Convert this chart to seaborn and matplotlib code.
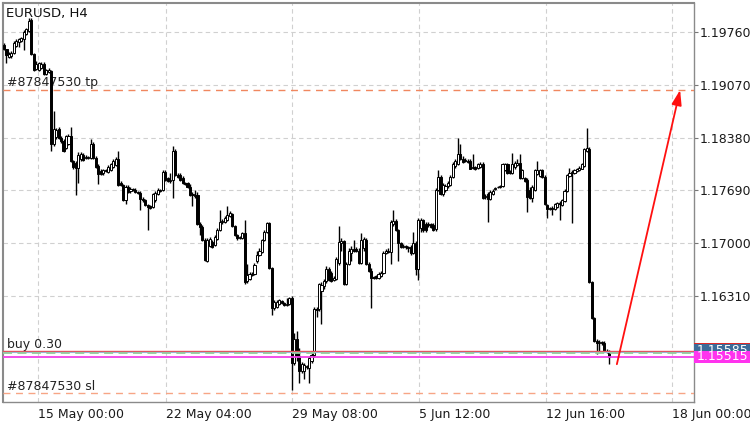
import numpy as np
import pandas as pd
import matplotlib
matplotlib.use("Agg")
import matplotlib.pyplot as plt
import matplotlib.transforms as mtransforms
from matplotlib.patches import Rectangle
import seaborn as sns

# H4 candles (oldest first)
opens = [
    1.19585, 1.19533, 1.19429, 1.19442, 1.19481, 1.19572, 1.19624, 1.19637, 1.19663, 1.19728,
    1.19767, 1.19910, 1.19468, 1.19273, 1.19260, 1.19286, 1.19338, 1.19208, 1.19234, 1.19247,
    1.18301, 1.18392, 1.18496, 1.18379, 1.18340, 1.18249, 1.18301, 1.18405, 1.18080, 1.18054,
    1.17989, 1.18106, 1.18158, 1.18119, 1.18119, 1.18119, 1.18301, 1.18119, 1.18015, 1.17937,
    1.17911, 1.17950, 1.17924, 1.17950, 1.18002, 1.18028, 1.18106, 1.17781, 1.17755, 1.17560,
    1.17729, 1.17677, 1.17703, 1.17690, 1.17664, 1.17651, 1.17573, 1.17560, 1.17495, 1.17482,
    1.17469, 1.17560, 1.17638, 1.17690, 1.17690, 1.17924, 1.17846, 1.17807, 1.17820, 1.18210,
    1.17885, 1.17885, 1.17846, 1.17781, 1.17781, 1.17729, 1.17625, 1.17612, 1.17625, 1.17248,
    1.17209, 1.17040, 1.16770, 1.16962, 1.17014, 1.16975, 1.17053, 1.17170, 1.17274, 1.17274,
    1.17300, 1.17352, 1.17378, 1.17222, 1.17105, 1.17066, 1.17066, 1.17131, 1.16510, 1.16536,
    1.16588, 1.16601, 1.16770, 1.16848, 1.16887, 1.17040, 1.17144, 1.17261, 1.16679, 1.16159,
    1.16172, 1.16211, 1.16250, 1.16224, 1.16198, 1.16211, 1.16289, 1.15444, 1.15756, 1.15535,
    1.15340, 1.15340, 1.15392, 1.15379, 1.15470, 1.15548, 1.16133, 1.16146, 1.16380, 1.16445,
    1.16510, 1.16666, 1.16614, 1.16523, 1.16536, 1.16744, 1.17001, 1.17027, 1.16471, 1.16731,
    1.16874, 1.16923, 1.16923, 1.16900, 1.16744, 1.16936, 1.17040, 1.16731, 1.16640, 1.16549,
    1.16575, 1.16549, 1.16575, 1.16614, 1.16874, 1.16900, 1.16887, 1.17248, 1.17287, 1.17170,
    1.17001, 1.16949, 1.16962, 1.16949, 1.16949, 1.16874, 1.17001, 1.16666, 1.17196, 1.17300,
    1.17248, 1.17248, 1.17248, 1.17235, 1.17183, 1.17690, 1.17859, 1.17638, 1.17690, 1.17742,
    1.17755, 1.17859, 1.18015, 1.18041, 1.18171, 1.18106, 1.18093, 1.18080, 1.18080, 1.17989,
    1.18002, 1.17989, 1.18002, 1.18041, 1.17599, 1.17638, 1.17573, 1.17638, 1.17703, 1.17729,
    1.17729, 1.17742, 1.17950, 1.18041, 1.17911, 1.17911, 1.18002, 1.18028, 1.18054, 1.17846,
    1.17846, 1.17820, 1.17690, 1.17586, 1.17690, 1.17898, 1.17872, 1.17950, 1.17859, 1.17495,
    1.17443, 1.17456, 1.17443, 1.17469, 1.17521, 1.17495, 1.17547, 1.17677, 1.17872, 1.17911,
    1.17911, 1.17937, 1.17950, 1.17976, 1.18015, 1.18210, 1.18236, 1.16497, 1.16029, 1.15730,
    1.15704, 1.15717, 1.15704, 1.15600, 1.15587,
]
highs = [
    1.19611, 1.19533, 1.19494, 1.19507, 1.19637, 1.19663, 1.19676, 1.19689, 1.19780, 1.19806,
    1.19936, 1.19936, 1.19481, 1.19377, 1.19364, 1.19364, 1.19364, 1.19273, 1.19286, 1.19260,
    1.18730, 1.18509, 1.18522, 1.18405, 1.18366, 1.18418, 1.18431, 1.18522, 1.18093, 1.18080,
    1.18197, 1.18197, 1.18184, 1.18158, 1.18145, 1.18366, 1.18327, 1.18145, 1.18041, 1.17963,
    1.17976, 1.17976, 1.18028, 1.18054, 1.18106, 1.18132, 1.18210, 1.17807, 1.17768, 1.17755,
    1.17755, 1.17729, 1.17716, 1.17716, 1.17677, 1.17677, 1.17599, 1.17573, 1.17508, 1.17495,
    1.17651, 1.17677, 1.17716, 1.17703, 1.17950, 1.17950, 1.17859, 1.17911, 1.18275, 1.18236,
    1.17911, 1.17911, 1.17872, 1.17794, 1.17794, 1.17768, 1.17664, 1.17690, 1.17664, 1.17274,
    1.17235, 1.17066, 1.17066, 1.17079, 1.17040, 1.17105, 1.17196, 1.17430, 1.17313, 1.17352,
    1.17482, 1.17417, 1.17391, 1.17235, 1.17118, 1.17092, 1.17144, 1.17300, 1.16731, 1.16627,
    1.16627, 1.16744, 1.16900, 1.16936, 1.17053, 1.17170, 1.17274, 1.17274, 1.16692, 1.16263,
    1.16263, 1.16276, 1.16263, 1.16237, 1.16289, 1.16302, 1.16315, 1.15834, 1.15860, 1.15639,
    1.15457, 1.15444, 1.15418, 1.15535, 1.15574, 1.16172, 1.16172, 1.16484, 1.16497, 1.16536,
    1.16705, 1.16692, 1.16640, 1.16575, 1.16822, 1.17222, 1.17066, 1.17040, 1.16757, 1.16936,
    1.16962, 1.17040, 1.16949, 1.16936, 1.17131, 1.17079, 1.17066, 1.16757, 1.16679, 1.16575,
    1.16588, 1.16627, 1.16640, 1.16900, 1.16923, 1.16936, 1.17300, 1.17430, 1.17313, 1.17183,
    1.17014, 1.16988, 1.16975, 1.16962, 1.16975, 1.17144, 1.17027, 1.17326, 1.17326, 1.17313,
    1.17274, 1.17274, 1.17261, 1.17261, 1.17716, 1.17950, 1.17885, 1.17781, 1.17768, 1.17807,
    1.17885, 1.18067, 1.18106, 1.18379, 1.18301, 1.18145, 1.18119, 1.18106, 1.18106, 1.18171,
    1.18015, 1.18054, 1.18067, 1.18067, 1.17638, 1.17664, 1.17690, 1.17703, 1.17729, 1.17742,
    1.17755, 1.18054, 1.18054, 1.18054, 1.17950, 1.18184, 1.18080, 1.18106, 1.18171, 1.17976,
    1.17859, 1.17846, 1.17729, 1.17755, 1.17976, 1.18080, 1.17976, 1.17976, 1.17885, 1.17508,
    1.17469, 1.17482, 1.17521, 1.17534, 1.17547, 1.17573, 1.17703, 1.17898, 1.17989, 1.17950,
    1.17963, 1.17989, 1.18015, 1.18054, 1.18249, 1.18509, 1.18262, 1.16510, 1.16042, 1.15756,
    1.15743, 1.15730, 1.15730, 1.15626, 1.15613,
]
lows = [
    1.19520, 1.19351, 1.19416, 1.19416, 1.19468, 1.19559, 1.19559, 1.19624, 1.19520, 1.19715,
    1.19754, 1.19455, 1.19247, 1.19260, 1.19247, 1.19273, 1.19195, 1.19195, 1.19221, 1.18210,
    1.18275, 1.18366, 1.18366, 1.18314, 1.18197, 1.18236, 1.18288, 1.18067, 1.17976, 1.17625,
    1.17781, 1.18080, 1.18080, 1.18106, 1.18106, 1.18106, 1.18106, 1.17989, 1.17768, 1.17885,
    1.17885, 1.17924, 1.17911, 1.17937, 1.17989, 1.18015, 1.17742, 1.17742, 1.17547, 1.17508,
    1.17651, 1.17651, 1.17677, 1.17651, 1.17638, 1.17430, 1.17534, 1.17482, 1.17170, 1.17443,
    1.17456, 1.17534, 1.17625, 1.17664, 1.17677, 1.17807, 1.17794, 1.17781, 1.17586, 1.17872,
    1.17846, 1.17807, 1.17768, 1.17755, 1.17716, 1.17612, 1.17482, 1.17586, 1.17235, 1.17105,
    1.17027, 1.16770, 1.16757, 1.16949, 1.16936, 1.16962, 1.17040, 1.17157, 1.17248, 1.17261,
    1.17287, 1.17339, 1.17209, 1.17092, 1.17040, 1.17053, 1.17053, 1.16471, 1.16484, 1.16523,
    1.16575, 1.16588, 1.16744, 1.16835, 1.16874, 1.17027, 1.17131, 1.16666, 1.16068, 1.16133,
    1.16159, 1.16198, 1.16211, 1.16185, 1.16185, 1.16198, 1.15093, 1.15418, 1.15470, 1.15184,
    1.15314, 1.15236, 1.15366, 1.15184, 1.15444, 1.15522, 1.16042, 1.16120, 1.15951, 1.16406,
    1.16484, 1.16510, 1.16497, 1.16510, 1.16523, 1.16718, 1.16900, 1.16458, 1.16458, 1.16718,
    1.16770, 1.16887, 1.16887, 1.16731, 1.16731, 1.16900, 1.16718, 1.16627, 1.16159, 1.16536,
    1.16536, 1.16536, 1.16562, 1.16601, 1.16861, 1.16874, 1.16731, 1.17222, 1.17157, 1.16770,
    1.16936, 1.16936, 1.16923, 1.16887, 1.16848, 1.16861, 1.16588, 1.16523, 1.17144, 1.17144,
    1.17144, 1.17209, 1.17196, 1.17157, 1.17157, 1.17677, 1.17625, 1.17612, 1.17664, 1.17716,
    1.17742, 1.17846, 1.17989, 1.18028, 1.18093, 1.18054, 1.18067, 1.18054, 1.17963, 1.17976,
    1.17950, 1.17976, 1.17989, 1.17573, 1.17573, 1.17274, 1.17560, 1.17625, 1.17690, 1.17716,
    1.17716, 1.17729, 1.17937, 1.17898, 1.17898, 1.17898, 1.17976, 1.18015, 1.17833, 1.17833,
    1.17794, 1.17404, 1.17573, 1.17534, 1.17677, 1.17885, 1.17859, 1.17846, 1.17495, 1.17326,
    1.17430, 1.17365, 1.17430, 1.17456, 1.17300, 1.17482, 1.17534, 1.17664, 1.17859, 1.17261,
    1.17898, 1.17924, 1.17937, 1.17963, 1.18002, 1.18197, 1.16484, 1.16016, 1.15717, 1.15561,
    1.15600, 1.15678, 1.15587, 1.15574, 1.15431,
]
closes = [
    1.19533, 1.19455, 1.19468, 1.19481, 1.19611, 1.19637, 1.19663, 1.19676, 1.19754, 1.19793,
    1.19897, 1.19468, 1.19260, 1.19338, 1.19351, 1.19338, 1.19208, 1.19260, 1.19260, 1.18301,
    1.18496, 1.18483, 1.18379, 1.18340, 1.18210, 1.18405, 1.18405, 1.18080, 1.18002, 1.17989,
    1.18158, 1.18171, 1.18093, 1.18132, 1.18132, 1.18301, 1.18119, 1.18002, 1.17898, 1.17898,
    1.17950, 1.17937, 1.18002, 1.18041, 1.18080, 1.18106, 1.17755, 1.17755, 1.17560, 1.17729,
    1.17664, 1.17703, 1.17690, 1.17664, 1.17651, 1.17573, 1.17560, 1.17495, 1.17469, 1.17456,
    1.17638, 1.17651, 1.17690, 1.17677, 1.17924, 1.17820, 1.17807, 1.17820, 1.18210, 1.17885,
    1.17859, 1.17820, 1.17781, 1.17768, 1.17729, 1.17625, 1.17638, 1.17625, 1.17248, 1.17209,
    1.17040, 1.16783, 1.17040, 1.17053, 1.16949, 1.17079, 1.17170, 1.17274, 1.17287, 1.17326,
    1.17365, 1.17391, 1.17222, 1.17105, 1.17066, 1.17079, 1.17131, 1.16497, 1.16588, 1.16601,
    1.16601, 1.16718, 1.16848, 1.16900, 1.17040, 1.17144, 1.17261, 1.16679, 1.16159, 1.16237,
    1.16237, 1.16263, 1.16224, 1.16198, 1.16211, 1.16289, 1.15444, 1.15756, 1.15535, 1.15340,
    1.15431, 1.15418, 1.15405, 1.15509, 1.15548, 1.16146, 1.16146, 1.16471, 1.16458, 1.16510,
    1.16666, 1.16523, 1.16510, 1.16549, 1.16796, 1.17014, 1.17027, 1.16471, 1.16731, 1.16900,
    1.16923, 1.16900, 1.16900, 1.16744, 1.17040, 1.17053, 1.16731, 1.16640, 1.16549, 1.16562,
    1.16549, 1.16601, 1.16614, 1.16874, 1.16900, 1.16887, 1.17274, 1.17287, 1.17170, 1.17001,
    1.16949, 1.16962, 1.16949, 1.16936, 1.16874, 1.17001, 1.16666, 1.17300, 1.17300, 1.17170,
    1.17170, 1.17235, 1.17209, 1.17170, 1.17690, 1.17859, 1.17638, 1.17755, 1.17742, 1.17781,
    1.17859, 1.18041, 1.18080, 1.18171, 1.18106, 1.18067, 1.18080, 1.18067, 1.17976, 1.18002,
    1.17963, 1.18041, 1.18041, 1.17586, 1.17612, 1.17573, 1.17664, 1.17677, 1.17716, 1.17735,
    1.17742, 1.18041, 1.18041, 1.17911, 1.17924, 1.18041, 1.18054, 1.18054, 1.17846, 1.17950,
    1.17807, 1.17599, 1.17586, 1.17729, 1.17950, 1.17950, 1.17950, 1.17859, 1.17508, 1.17443,
    1.17456, 1.17443, 1.17508, 1.17521, 1.17508, 1.17560, 1.17677, 1.17885, 1.17911, 1.17924,
    1.17950, 1.17976, 1.17989, 1.18041, 1.18236, 1.18249, 1.16497, 1.16029, 1.15730, 1.15704,
    1.15717, 1.15704, 1.15600, 1.15587, 1.15515,
]

price_ticks = [1.16310, 1.17000, 1.17690, 1.18380, 1.19070, 1.19760]
time_labels = ["15 May 00:00", "22 May 04:00", "29 May 08:00", "5 Jun 12:00", "12 Jun 16:00", "18 Jun 00:00"]
time_label_bars = [13.8, 65.2, 116.0, 167.3, 218.4, 269.5]

order_id = "#87847530"
lots = 0.30
tp_price = 1.19005
sl_price = 1.15050
open_price = 1.15600
ask_price = 1.15585
bid_price = 1.15515
breakeven_price = 1.15566
arrow_from = (247.1, 1.15423)
arrow_to = (272.6, 1.19000)

df = pd.DataFrame({"open": opens, "high": highs, "low": lows, "close": closes})
df["bar"] = np.arange(len(df))
df["up"] = df["close"] >= df["open"]

sns.set_style("white")
plt.rcParams["font.family"] = ["DejaVu Sans"]

W, H = 750, 423
fig = plt.figure(figsize=(7.5, 4.23), dpi=100)
ax = fig.add_axes([3 / W, 1 - 402 / H, 691 / W, 399 / H])
trans = mtransforms.blended_transform_factory(ax.transAxes, ax.transData)

# candles: wicks then bodies
ax.vlines(df["bar"], df["low"], df["high"], color="black", linewidth=1.0, zorder=3)
body_low = np.minimum(df["open"], df["close"])
body_h = np.maximum((df["close"] - df["open"]).abs(), 0.00004)
ax.bar(df["bar"], body_h, bottom=body_low, width=0.85,
       color=np.where(df["up"], "white", "black"), edgecolor="black",
       linewidth=0.7, zorder=4)

# order / price lines
ax.axhline(tp_price, color="#f0875f", linewidth=1.0, linestyle=(0, (5, 4)), zorder=5)
ax.axhline(sl_price, color="#f7a585", linewidth=1.0, linestyle=(0, (5, 4)), zorder=5)
ax.axhline(open_price, color="#e8505a", linewidth=1.0, zorder=5)
ax.axhline(ask_price, color="#9ab8d6", linewidth=0.8, zorder=5)
ax.axhline(breakeven_price, color="#95c8a0", linewidth=1.3, linestyle=(0, (5, 3)), zorder=5)
ax.axhline(bid_price, color="#f040e8", linewidth=1.3, zorder=5)

ax.text(0.006, tp_price + 0.00045, f"{order_id} tp", transform=trans,
        fontsize=9, color="#222222", va="baseline", zorder=2)
ax.text(0.006, open_price + 0.00030, f"buy {lots:.2f}", transform=trans,
        fontsize=9, color="#222222", va="baseline", zorder=2)
ax.text(0.006, sl_price + 0.00037, f"{order_id} sl", transform=trans,
        fontsize=9, color="#222222", va="baseline", zorder=2)
ax.text(0.0045, 0.991, "EURUSD, H4", transform=ax.transAxes, fontsize=9.5,
        color="#111111", va="top", ha="left", zorder=6)

# arrow towards take profit
ax.annotate("", xy=arrow_to, xytext=arrow_from,
            arrowprops=dict(arrowstyle="-|>,head_length=0.9,head_width=0.3",
                            color="#ff1010", lw=1.3, shrinkA=0, shrinkB=0),
            zorder=7)

# price labels on the right scale
box_w = 58 / 691
box_h = 0.00153
for price, centre, face, z in [(open_price, 1.15618, "#e02828", 8),
                               (ask_price, 1.15608, "#3d6b99", 9),
                               (bid_price, 1.15519, "#ff33ee", 11)]:
    ax.add_patch(Rectangle((1.0, centre - box_h / 2), box_w, box_h, transform=trans,
                           facecolor=face, edgecolor="none", clip_on=False, zorder=z))
    ax.text(1.0 + 3 / 691, centre, f"{price:.5f}", transform=trans, fontsize=9,
            color="white", va="center", ha="left", clip_on=False, zorder=z + 1)

ax.set_xlim(-0.4, 278.2)
ax.set_ylim(1.14930, 1.20135)

ax.yaxis.tick_right()
ax.set_yticks(price_ticks)
ax.set_yticklabels([f"{p:.5f}" for p in price_ticks])
ax.set_xticks(time_label_bars)
ax.set_xticklabels(time_labels)
for lbl in ax.get_xticklabels():
    lbl.set_ha("left")
ax.tick_params(axis="y", direction="out", length=3, width=0.8, pad=1,
               labelsize=9, colors="#777777", labelcolor="#1a1a1a")
ax.tick_params(axis="x", direction="out", length=3, width=0.8, pad=1,
               labelsize=9, colors="#777777", labelcolor="#1a1a1a")

ax.grid(True, color="#d0d0d0", linestyle=(0, (4, 3)), linewidth=0.8)
ax.set_axisbelow(True)
for side, spine in ax.spines.items():
    spine.set_visible(True)
    spine.set_color("#8a8a8a")
    spine.set_linewidth(1.5 if side in ("top", "left") else 1.0)

ax.set_xlabel("")
ax.set_ylabel("")

fig.savefig("out.png", dpi=100)
